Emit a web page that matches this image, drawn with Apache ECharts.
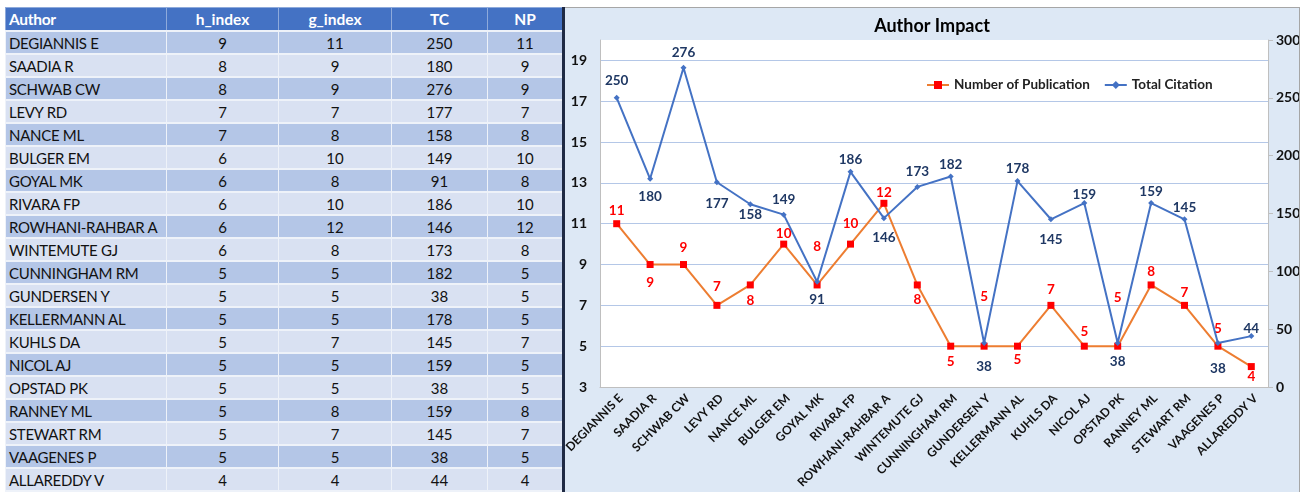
<!DOCTYPE html>
<html lang="en">
<head>
    <meta charset="UTF-8">
    <title>Author Impact</title>
    <script src="https://cdn.jsdelivr.net/npm/echarts@6/dist/echarts.min.js"></script>
    <style>
        html, body {
            margin: 0;
            width: 1304px;
            height: 492px;
            overflow: hidden;
            background: #fff;
            font-family: Lato, "Open Sans", sans-serif;
        }
        #table {
            position: absolute;
            left: 5px;
            top: 7px;
            width: 557px;
            height: 485px;
            border-collapse: collapse;
            table-layout: fixed;
            font-size: 15px;
            color: #111;
            white-space: nowrap;
        }
        #table th {
            background: #4472c4;
            color: #fff;
            font-weight: bold;
            font-size: 15.5px;
            text-align: center;
            border: 1px solid #8eaadb;
            padding: 0;
            height: 22px;
        }
        #table th:first-child, #table td:first-child {
            text-align: left;
            padding-left: 3px;
            letter-spacing: -0.3px;
        }
        #table td {
            text-align: center;
            border: 1px solid #eef2f9;
            border-width: 2px 1px;
            padding: 0;
            overflow: hidden;
        }
        #table tr:nth-child(odd) td { background: #b4c6e7; }
        #table tr:nth-child(even) td { background: #d9e1f2; }
        #divider {
            position: absolute;
            left: 562px;
            top: 7px;
            width: 3px;
            height: 485px;
            background: #1f2a44;
        }
        #chart {
            position: absolute;
            left: 565px;
            top: 7px;
            width: 734px;
            height: 484px;
            border-top: 1px solid #a6a6a6;
            border-right: 1px solid #a6a6a6;
            background: #dde8f5;
        }
    </style>
</head>
<body>
<table id="table">
    <colgroup>
        <col style="width:161px"><col style="width:112px"><col style="width:113px"><col style="width:96px"><col style="width:75px">
    </colgroup>
    <thead>
    <tr><th>Author</th><th>h_index</th><th>g_index</th><th>TC</th><th>NP</th></tr>
    </thead>
    <tbody id="tbody"></tbody>
</table>
<div id="divider"></div>
<div id="chart"></div>

<script>
    var authors = ['DEGIANNIS E', 'SAADIA R', 'SCHWAB CW', 'LEVY RD', 'NANCE ML', 'BULGER EM', 'GOYAL MK',
        'RIVARA FP', 'ROWHANI-RAHBAR A', 'WINTEMUTE GJ', 'CUNNINGHAM RM', 'GUNDERSEN Y', 'KELLERMANN AL',
        'KUHLS DA', 'NICOL AJ', 'OPSTAD PK', 'RANNEY ML', 'STEWART RM', 'VAAGENES P', 'ALLAREDDY V'];
    var hIndex = [9, 8, 8, 7, 7, 6, 6, 6, 6, 6, 5, 5, 5, 5, 5, 5, 5, 5, 5, 4];
    var gIndex = [11, 9, 9, 7, 8, 10, 8, 10, 12, 8, 5, 5, 5, 7, 5, 5, 8, 7, 5, 4];
    var totalCitation = [250, 180, 276, 177, 158, 149, 91, 186, 146, 173, 182, 38, 178, 145, 159, 38, 159, 145, 38, 44];
    var numPublication = [11, 9, 9, 7, 8, 10, 8, 10, 12, 8, 5, 5, 5, 7, 5, 5, 8, 7, 5, 4];

    // label vertical offsets (px) relative to each point
    var npLabelDy = [-13, 18, -17, -19, 16, -10, -38, -20, -11, 15, 15, -50, 13, -16, -15, -49, -13, -13, -18, 10];
    var tcLabelDy = [-17, 18, -15, 21, 10, -15, 18, -12, 20, -15, -12, 24, -12, 20, -8, 19, -11, -12, 26, -7];

    // table
    var rows = '';
    for (var i = 0; i < authors.length; i++) {
        rows += '<tr><td>' + authors[i] + '</td><td>' + hIndex[i] + '</td><td>' + gIndex[i] +
            '</td><td>' + totalCitation[i] + '</td><td>' + numPublication[i] + '</td></tr>';
    }
    document.getElementById('tbody').innerHTML = rows;

    function withLabels(values, dys) {
        return values.map(function (v, i) {
            return {value: v, label: {offset: [0, dys[i]]}};
        });
    }

    var chart = echarts.init(document.getElementById('chart'));
    chart.setOption({
        backgroundColor: '#dde8f5',
        textStyle: {fontFamily: 'Lato'},
        title: {
            text: 'Author Impact',
            left: 'center',
            top: 4,
            textStyle: {fontSize: 18, fontWeight: 'bold', color: '#000'}
        },
        legend: {
            left: 356,
            top: 65,
            itemWidth: 22,
            itemHeight: 10,
            itemGap: 14,
            textStyle: {fontSize: 13.5, fontWeight: 'bold', color: '#222'},
            data: ['Number of Publication', 'Total Citation']
        },
        grid: {
            left: 35,
            right: 31,
            top: 32,
            bottom: 105,
            outerBoundsMode: 'none',
            show: true,
            backgroundColor: '#fff',
            borderWidth: 0
        },
        xAxis: {
            type: 'category',
            data: authors,
            boundaryGap: true,
            axisLine: {lineStyle: {color: '#bfbfbf'}},
            axisTick: {show: false},
            axisLabel: {
                interval: 0,
                rotate: 45,
                margin: 5,
                verticalAlign: 'top',
                fontSize: 12,
                fontWeight: 'bold',
                color: '#111'
            }
        },
        yAxis: [{
            type: 'value',
            min: 3,
            max: 20,
            interval: 2,
            axisLine: {show: true, lineStyle: {color: '#bfbfbf'}},
            axisTick: {show: false},
            axisLabel: {showMaxLabel: false, fontSize: 14, fontWeight: 'bold', color: '#111', margin: 13},
            splitLine: {showMaxLine: false, lineStyle: {color: '#b4c7e7', width: 1}}
        }, {
            type: 'value',
            min: 0,
            max: 300,
            interval: 50,
            axisLine: {show: true, lineStyle: {color: '#bfbfbf'}},
            axisTick: {show: true, length: 5, lineStyle: {color: '#bfbfbf'}},
            axisLabel: {fontSize: 14, fontWeight: 'bold', color: '#111', margin: 8},
            splitLine: {show: false}
        }],
        series: [{
            name: 'Number of Publication',
            type: 'line',
            yAxisIndex: 0,
            data: withLabels(numPublication, npLabelDy),
            symbol: 'rect',
            symbolSize: 7,
            itemStyle: {color: '#ff0000'},
            lineStyle: {color: '#ed7d31', width: 2},
            label: {
                show: true,
                position: 'inside',
                fontSize: 13.5,
                fontWeight: 'bold',
                color: '#ff0000'
            },
            z: 2
        }, {
            name: 'Total Citation',
            type: 'line',
            yAxisIndex: 1,
            data: withLabels(totalCitation, tcLabelDy),
            symbol: 'diamond',
            symbolSize: 6,
            itemStyle: {color: '#4472c4'},
            lineStyle: {color: '#4472c4', width: 2},
            label: {
                show: true,
                position: 'inside',
                fontSize: 13.5,
                fontWeight: 'bold',
                color: '#1f3864'
            },
            z: 3
        }]
    });
</script>
</body>
</html>
